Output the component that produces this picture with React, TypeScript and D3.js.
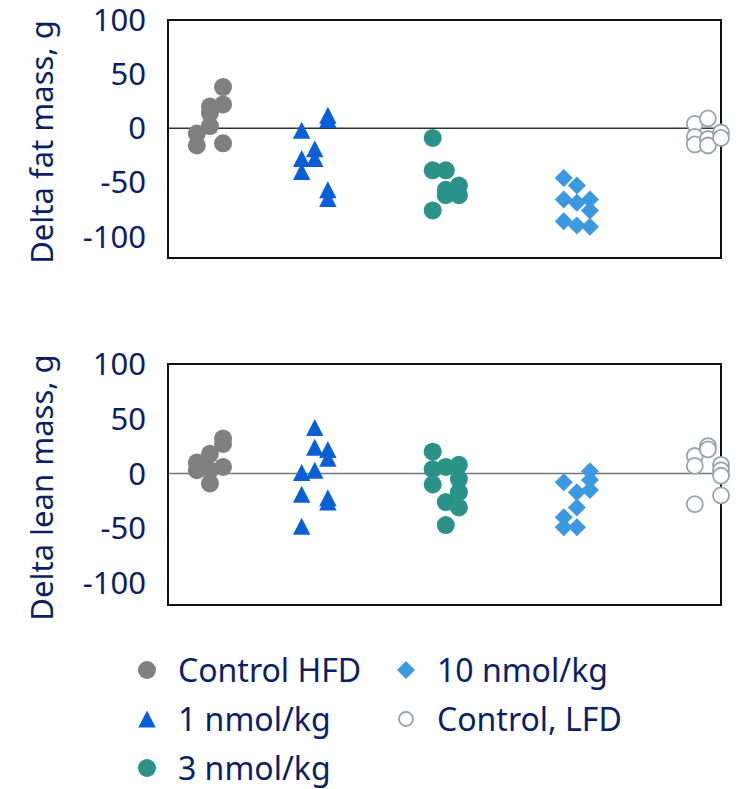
import * as d3 from "d3";

const groups = ["Control HFD", "1 nmol/kg", "3 nmol/kg", "10 nmol/kg", "Control, LFD"];
const groupX = [0.2, 1, 2, 3, 4];
const jitter = [-0.1, 0, 0.1];
const yTicks = [-100, -50, 0, 50, 100];

// each group: values per jitter column (left, middle, right)
const fatHFD = [[-5, -16], [20, 14, 2], [38, 22, -14]];
const fat1 = [[-2, -28, -40], [-19, -28], [12, 8, -57, -65]];
const fat3 = [[-9, -39, -76], [-39, -57, -62], [-53, -62]];
const fat10 = [[-46, -66, -86], [-53, -69, -90], [-66, -76, -91]];
const fatLFD = [[4, -8, -15], [9, -10, -16], [-4, -9]];

const leanHFD = [[10, 3], [18, 3, -9], [32, 27, 6]];
const lean1 = [[1, -19, -48], [42, 24, 3], [22, 14, -22, -26]];
const lean3 = [[20, 4, -10], [6, -26, -47], [8, -5, -17, -31]];
const lean10 = [[-8, -40, -49], [-17, -31, -49], [2, -6, -15]];
const leanLFD = [[16, 7, -28], [25, 22], [8, 3, -2, -20]];

const navy = "#0c1f66";
const styles = [
  { shape: "circle", fill: "#808080", stroke: "none" },
  { shape: "triangle", fill: "#0a5fd6", stroke: "none" },
  { shape: "circle", fill: "#2a9288", stroke: "none" },
  { shape: "diamond", fill: "#3c99e0", stroke: "none" },
  { shape: "open", fill: "#fff", stroke: "#9aa2ae" },
];

const font = "'Noto Sans', sans-serif";
const left = 168;
const right = 721;

const x = d3.scaleLinear().domain([-0.12, 4.1]).range([left, right]);

function Marker({ cx, cy, i, legend = false }) {
  const s = styles[i];
  if (s.shape === "circle") return <circle cx={cx} cy={cy} r={9} fill={s.fill} />;
  if (s.shape === "open")
    return <circle cx={cx} cy={cy} r={legend ? 7 : 8} fill="#fff" stroke={s.stroke} strokeWidth={1.8} />;
  if (s.shape === "triangle") {
    const w = 8.7, h = 8.5;
    return <path d={`M${cx},${cy - h}L${cx + w},${cy + h}L${cx - w},${cy + h}Z`} fill={s.fill} />;
  }
  const r = 9;
  return <path d={`M${cx},${cy - r}L${cx + r},${cy}L${cx},${cy + r}L${cx - r},${cy}Z`} fill={s.fill} />;
}

function Panel({ top, bottom, title, series, zeroColor }) {
  const y = d3.scaleLinear().domain([-120, 100]).range([bottom, top]);
  return (
    <g>
      <text
        transform={`translate(53,${(top + bottom) / 2 + 3}) rotate(-90)`}
        textAnchor="middle"
        fontSize={31}
        fontFamily={font}
        fill={navy}
      >
        {title}
      </text>
      {yTicks.map((t) => (
        <text key={t} x={146} y={y(t)} dy="0.36em" textAnchor="end" fontSize={31} fontFamily={font} fill={navy}>
          {t}
        </text>
      ))}
      <line x1={left} x2={right} y1={y(0)} y2={y(0)} stroke={zeroColor} strokeWidth={1.5} />
      <rect x={left} y={top} width={right - left} height={bottom - top} fill="none" stroke="#111" strokeWidth={2} />
      {series.map((cols, gi) =>
        cols.map((vals, ci) =>
          vals.map((v, k) => (
            <Marker key={`${gi}-${ci}-${k}`} cx={x(groupX[gi] + jitter[ci])} cy={y(v)} i={gi} />
          ))
        )
      )}
    </g>
  );
}

const legendPos = [
  [147, 670],
  [147, 719],
  [147, 768],
  [406, 670],
  [406, 719],
];

export default function App() {
  return (
    <svg width={739} height={789} style={{ position: "absolute", left: 0, top: 0 }}>
      <rect width={739} height={789} fill="#fff" />
      <Panel
        top={20}
        bottom={258}
        title="Delta fat mass, g"
        series={[fatHFD, fat1, fat3, fat10, fatLFD]}
        zeroColor="#333"
      />
      <Panel
        top={364}
        bottom={605}
        title="Delta lean mass, g"
        series={[leanHFD, lean1, lean3, lean10, leanLFD]}
        zeroColor="#777"
      />
      {groups.map((g, i) => (
        <g key={g}>
          <Marker cx={legendPos[i][0]} cy={legendPos[i][1]} i={i} legend />
          <text
            x={legendPos[i][0] + 31}
            y={legendPos[i][1]}
            dy="0.36em"
            fontSize={32}
            fontFamily={font}
            fill={navy}
          >
            {g}
          </text>
        </g>
      ))}
    </svg>
  );
}
